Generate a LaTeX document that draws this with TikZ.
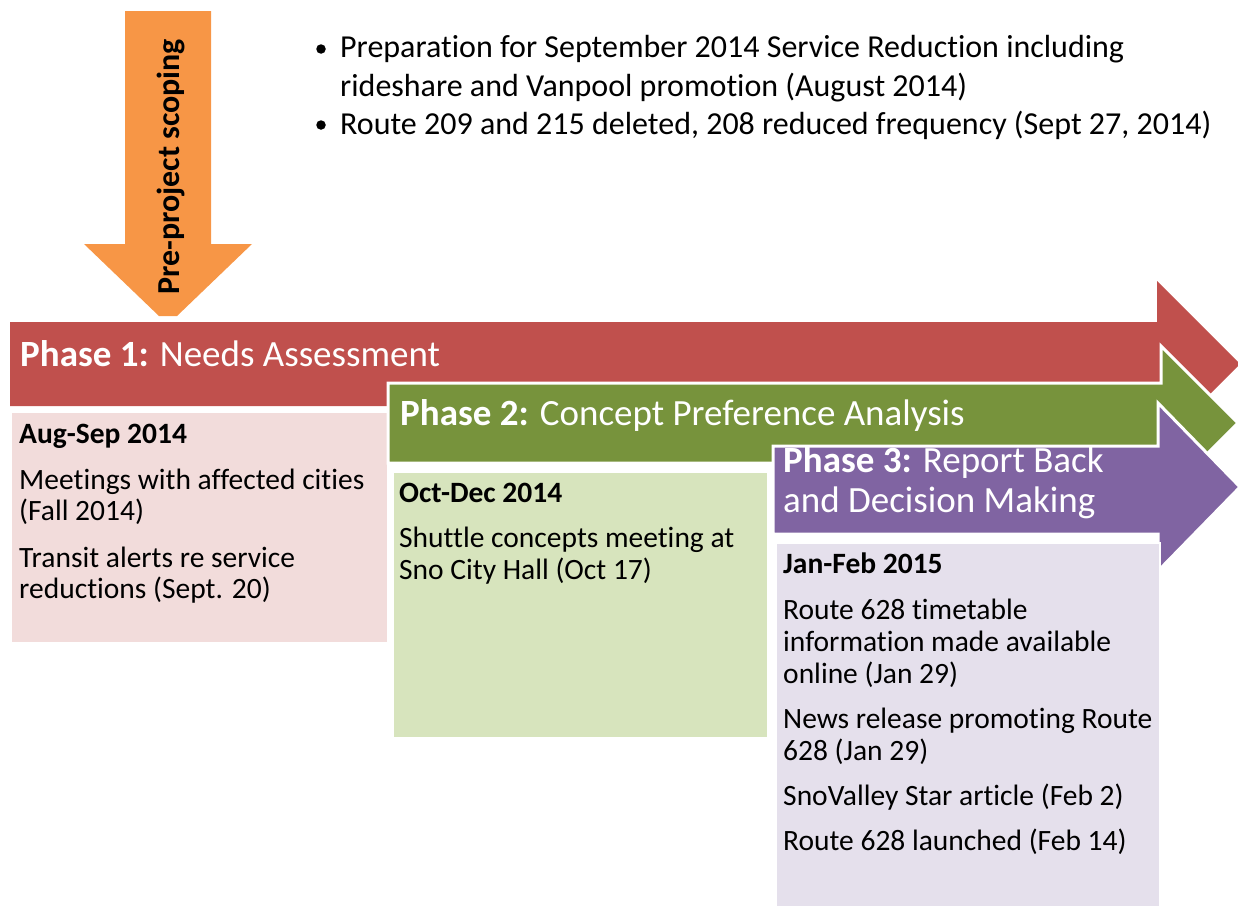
\documentclass[tikz,border=0pt]{standalone}
\usepackage{fontspec}
\setmainfont[Ligatures=NoCommon]{Carlito}
\definecolor{pred}{HTML}{C0504D}
\definecolor{pgreen}{HTML}{77933C}
\definecolor{ppurple}{HTML}{8064A2}
\definecolor{porange}{HTML}{F79646}
\definecolor{ppink}{HTML}{F2DCDB}
\definecolor{plgreen}{HTML}{D7E4BD}
\definecolor{plav}{HTML}{E5E0EC}
\tikzset{
  phasearrow/.style={draw=white, line width=3pt, line join=miter},
  databox/.style={draw=white, line width=2pt},
  titletxt/.style={anchor=base west, inner sep=0pt, text=white, font=\fontsize{37}{44}\selectfont},
  bultxt/.style={anchor=base west, inner sep=0pt, font=\fontsize{32}{39}\selectfont},
  boxtxt/.style={anchor=base west, inner sep=0pt, font=\fontsize{29.5}{32}\selectfont},
  boxhead/.style={boxtxt, font=\fontsize{29.5}{32}\selectfont\bfseries},
  bulletdot/.style={circle, fill=black, inner sep=0pt, minimum size=9.5pt}
}
\begin{document}
\begin{tikzpicture}[x=1pt,y=-1pt]
\useasboundingbox (0,0) rectangle (1238,905);
% orange pre-project arrow
\fill[porange] (125,11) -- (211,11) -- (211,244) -- (252,244) -- (177,316) -- (159,316) -- (84,244) -- (125,244) -- cycle;
\node[rotate=90, anchor=base west, inner sep=0pt, font=\fontsize{32}{36}\selectfont\bfseries] (pre) at (179,295) {Pre-project scoping};
% bullets
\node[bulletdot] (b1) at (321,49) {};
\node[bultxt] (l1) at (340,57) {Preparation for September 2014 Service Reduction including};
\node[bultxt] (l2) at (340,96) {rideshare and Vanpool promotion (August 2014)};
\node[bulletdot] (b2) at (321,125) {};
\node[bultxt] (l3) at (340,134) {Route 209 and 215 deleted, 208 reduced frequency (Sept 27, 2014)};
% phase 1
\fill[pred] (10,322) -- (1157,322) -- (1157,281) -- (1240,364) -- (1157,447) -- (1157,406) -- (10,406) -- cycle;
\node[titletxt] (p1) at (20,366) {\textbf{Phase 1:} Needs Assessment};
\fill[ppink] (12,413) rectangle (387,642);
\node[boxhead] (p1h) at (19,443) {Aug-Sep 2014};
\node[boxtxt] (p1a) at (19,489) {Meetings with affected cities};
\node[boxtxt] (p1b) at (19,520) {(Fall 2014)};
\node[boxtxt] (p1c) at (19,567) {Transit alerts re service};
\node[boxtxt] (p1d) at (19,598) {reductions (Sept. 20)};
% phase 2
\filldraw[phasearrow, fill=pgreen] (388,383) -- (1161,383) -- (1161,346) -- (1238,423) -- (1161,500) -- (1161,463) -- (388,463) -- cycle;
\node[titletxt] (p2) at (400,425) {\textbf{Phase 2:} Concept Preference Analysis};
\filldraw[databox, fill=plgreen] (393,472) rectangle (768,738);
\node[boxhead] (p2h) at (399,502) {Oct-Dec 2014};
\node[boxtxt] (p2a) at (399,547) {Shuttle concepts meeting at};
\node[boxtxt] (p2b) at (399,579) {Sno City Hall (Oct 17)};
% phase 3
\filldraw[phasearrow, fill=ppurple] (773,446) -- (1158,446) -- (1158,403) -- (1240,487) -- (1158,571) -- (1158,534) -- (773,534) -- cycle;
\node[titletxt] (p3a) at (783,472) {\textbf{Phase 3:} Report Back};
\node[titletxt] (p3b) at (783,512) {and Decision Making};
\filldraw[databox, fill=plav] (776,543) rectangle (1160,910);
\node[boxhead] (p3h) at (783,573) {Jan-Feb 2015};
\node[boxtxt] (q1) at (783,619) {Route 628 timetable};
\node[boxtxt] (q2) at (783,651) {information made available};
\node[boxtxt] (q3) at (783,683) {online (Jan 29)};
\node[boxtxt] (q4) at (783,728) {News release promoting Route};
\node[boxtxt] (q5) at (783,760) {628 (Jan 29)};
\node[boxtxt] (q6) at (783,805) {SnoValley Star article (Feb 2)};
\node[boxtxt] (q7) at (783,850) {Route 628 launched (Feb 14)};
\end{tikzpicture}
\end{document}
